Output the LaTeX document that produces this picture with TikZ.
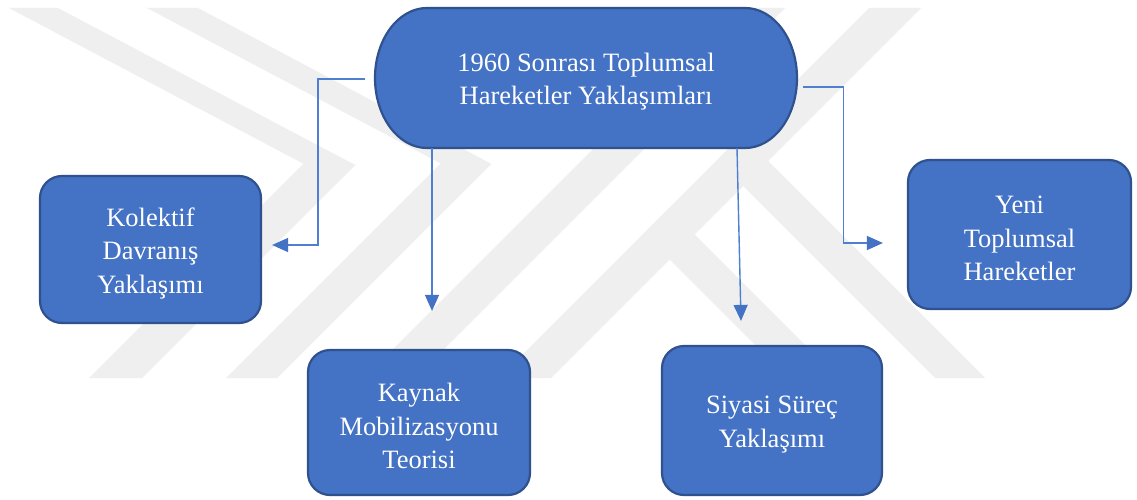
\documentclass[tikz,border=0pt]{standalone}
\usepackage{fontspec}
\setmainfont{Liberation Serif}
\usetikzlibrary{arrows.meta}
\definecolor{boxblue}{HTML}{4472C4}
\definecolor{boxedge}{HTML}{2F528F}
\definecolor{lineblue}{HTML}{4F7FD0}
\definecolor{wm}{HTML}{EFEFEF}
\newcommand{\dn}{\rule{0pt}{26pt}}
\tikzset{
  boxsty/.style={fill=boxblue, draw=boxedge, line width=2.2pt},
  rbox/.style={boxsty, rounded corners=22pt, align=center, text=white, inner sep=0pt},
  txt/.style={align=center, text=white, inner sep=0pt},
  conn/.style={draw=lineblue, line width=1.4pt,
    -{Triangle[length=16pt,width=14pt,fill=boxblue,color=boxblue]}},
  wmark/.style={fill=wm, draw=none}
}
\begin{document}
\begin{tikzpicture}[x=1pt,y=1pt,font=\fontsize{26.5}{33.5}\selectfont]
\useasboundingbox (0,0) rectangle (1137,-500);
\fill[white] (0,0) rectangle (1137,-500);
% watermark
\fill[wmark] (9,-8) -- (58,-8) -- (355,-165) -- (338,-182) -- cycle;
\fill[wmark] (89,-378) -- (142,-378) -- (355,-165) -- (320,-147) -- cycle;
\fill[wmark] (147,-8) -- (198,-8) -- (491,-164) -- (474,-181) -- cycle;
\fill[wmark] (226,-378) -- (277,-378) -- (491,-164) -- (458,-146) -- cycle;
\fill[wmark] (364,-378) -- (415,-378) -- (785,-8) -- (734,-8) -- cycle;
\fill[wmark] (499,-378) -- (551,-378) -- (921,-8) -- (869,-8) -- cycle;
\fill[wmark] (717,-160) -- (742,-135) -- (985,-378) -- (935,-378) -- cycle;
\fill[wmark] (643.5,-233.5) -- (668.5,-208.5) -- (838,-378) -- (788,-378) -- cycle;
% top stadium
\draw[boxsty] (427,-8) -- (745,-8) arc[start angle=90, end angle=-90, x radius=52, y radius=70]
  -- (427,-148) arc[start angle=270, end angle=90, x radius=52, y radius=70] -- cycle;
\node[txt, minimum width=422pt, minimum height=140pt] (top) at (586,-78)
  {\dn 1960 Sonrası Toplumsal\\Hareketler Yaklaşımları};
% boxes
\node[rbox, minimum width=221pt, minimum height=147pt] (kol) at (150.5,-249.5)
  {\dn Kolektif\\Davranış\\Yaklaşımı};
\node[rbox, minimum width=223pt, minimum height=149pt] (yeni) at (1019.5,-234.5)
  {\dn Yeni\\Toplumsal\\Hareketler};
\node[rbox, minimum width=222pt, minimum height=145pt] (kay) at (419,-422.5)
  {\dn Kaynak\\Mobilizasyonu\\Teorisi};
\node[rbox, minimum width=220pt, minimum height=149pt] (siy) at (772,-420.5)
  {\dn Siyasi Süreç\\Yaklaşımı};
% connectors
\draw[conn] ([xshift=-10pt,yshift=-1pt]top.west) -- ++(-47,0) |- ([xshift=10pt,yshift=4.5pt]kol.east);
\draw[conn] ([xshift=6pt,yshift=-9pt]top.east) -- ++(40,0) |- ([xshift=-24pt,yshift=-8.5pt]yeni.west);
\draw[conn] ([xshift=-154pt]top.south) -- ([xshift=13pt,yshift=38pt]kay.north);
\draw[conn] ([xshift=151pt]top.south) -- ([xshift=-31pt,yshift=24pt]siy.north);
\end{tikzpicture}
\end{document}
